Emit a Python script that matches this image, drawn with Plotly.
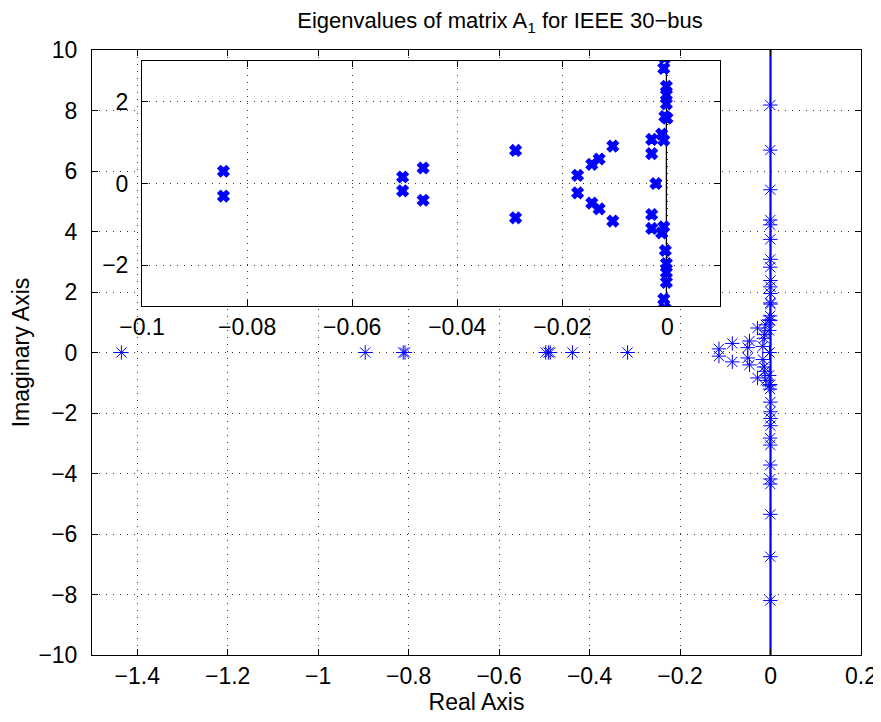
import plotly.graph_objects as go

# ---- data ----
# eigenvalues: real parts and imaginary parts
eig_real = [
    -1.435, -0.896, -0.812, -0.808, -0.497, -0.491, -0.487, -0.438, -0.316, -0.0022,
    -0.114, -0.114,
    -0.0845, -0.0845,
    -0.0504, -0.0504,
    -0.0465, -0.0465,
    -0.0289, -0.0289,
    -0.0171, -0.0171,
    -0.0144, -0.0144,
    -0.0130, -0.0130,
    -0.0104, -0.0104,
    -0.0030, -0.0030,
    -0.0030, -0.0030,
    -0.0011, -0.0011,
    -0.0007, -0.0007,
    -0.0005, -0.0004,
    -0.0001,
    -0.0002, -0.0002,
    -0.0002, -0.0002,
    -0.0002, -0.0002,
    -0.0007, -0.0007,
    -0.0005, -0.0005,
    -0.0005, -0.0005,
    -0.0005, -0.0005,
    -0.0005, -0.0005,
    -0.0005, -0.0005,
    -0.0005, -0.0005,
    -0.0005, -0.0005,
]
eig_imag = [
    0, 0, 0, 0, 0, 0, 0, 0, 0, 0,
    0.12, -0.12,
    0.30, -0.31,
    0.16, -0.18,
    0.38, -0.41,
    0.81, -0.84,
    0.20, -0.23,
    0.47, -0.48,
    0.60, -0.62,
    0.915, -0.92,
    0.73, -0.76,
    1.08, -1.10,
    1.21, -1.21,
    1.06, -1.06,
    1.64, -1.64,
    1.60,
    1.95, -1.96,
    2.17, -2.18,
    2.38, -2.42,
    2.82, -2.83,
    3.08, -3.06,
    3.74, -3.72,
    4.22, -4.18,
    4.38, -4.35,
    5.38, -5.35,
    6.69, -6.75,
    8.18, -8.20,
]

# imaginary-axis reference lines
main_line_x = [0, 0]
main_line_y = [-10, 10]
inset_line_x = [-0.0002, -0.0002]
inset_line_y = [-3, 3]

# tick values
main_xticks = [-1.4, -1.2, -1, -0.8, -0.6, -0.4, -0.2, 0, 0.2]
main_yticks = [-10, -8, -6, -4, -2, 0, 2, 4, 6, 8, 10]
inset_xticks = [-0.1, -0.08, -0.06, -0.04, -0.02, 0]
inset_yticks = [-2, 0, 2]

FONT = "Liberation Sans, Arial, Helvetica, sans-serif"
BLUE = "#0000ff"
FS = 23
TFS = 22

fig = go.Figure()

# main plot
fig.add_trace(go.Scatter(
    x=main_line_x, y=main_line_y, mode="lines",
    line=dict(color=BLUE, width=2.2), xaxis="x", yaxis="y",
    showlegend=False, hoverinfo="skip"))
fig.add_trace(go.Scatter(
    x=eig_real, y=eig_imag, mode="markers",
    marker=dict(symbol="asterisk-open", size=12, color=BLUE,
                line=dict(color=BLUE, width=1)),
    xaxis="x", yaxis="y", showlegend=False))

# inset
fig.add_trace(go.Scatter(
    x=inset_line_x, y=inset_line_y, mode="lines",
    line=dict(color="black", width=1.3), xaxis="x2", yaxis="y2",
    showlegend=False, hoverinfo="skip"))
fig.add_trace(go.Scatter(
    x=eig_real, y=eig_imag, mode="markers",
    marker=dict(symbol="x", size=10, color=BLUE,
                line=dict(color=BLUE, width=1.3)),
    xaxis="x2", yaxis="y2", showlegend=False))

# page is shown with an 8px body margin, so the figure is shifted by OFF
OFF = 8
PAGE_W, PAGE_H = 881, 722
W, H = PAGE_W - OFF, PAGE_H - OFF
# plot area in page pixels
PX0, PX1, PY0, PY1 = 92, 861, 50, 655
L, R, T, B = PX0 - OFF, PAGE_W - PX1, PY0 - OFF, PAGE_H - PY1
pw, ph = PX1 - PX0, PY1 - PY0

def px_to_dom_x(p):
    return (p - PX0) / pw

def px_to_dom_y(p):
    return (PY1 - p) / ph

grid = dict(showgrid=True, gridcolor="#333333", gridwidth=1, griddash="1px,6px")
axis_common = dict(showline=True, linecolor="black", linewidth=1, mirror="ticks",
                   ticks="inside", ticklen=6, tickcolor="black", tickwidth=1,
                   zeroline=False, automargin=False,
                   tickfont=dict(family=FONT, size=FS, color="black"),
                   **grid)

fig.update_layout(
    width=W, height=H,
    margin=dict(l=L, r=R, t=T, b=B),
    paper_bgcolor="white", plot_bgcolor="white",
    font=dict(family=FONT, size=FS, color="black"),
    title=dict(text="Eigenvalues of matrix A<sub>1</sub> for IEEE 30\u2212bus",
               x=px_to_dom_x(500), xref="paper", xanchor="center",
               y=1 - 4.5 / H, yref="container", yanchor="top",
               font=dict(family=FONT, size=TFS, color="black")),
    xaxis=dict(range=[-1.5, 0.2], tickvals=main_xticks, domain=[0, 1],
               ticklabelstandoff=0,
               title=dict(text="Real Axis", standoff=5,
                          font=dict(family=FONT, size=FS, color="black")),
               **axis_common),
    yaxis=dict(range=[-10, 10], tickvals=main_yticks, domain=[0, 1],
               ticklabelstandoff=9,
               title=dict(text="Imaginary Axis", standoff=12,
                          font=dict(family=FONT, size=FS, color="black")),
               **axis_common),
    xaxis2=dict(range=[-0.1, 0.01], tickvals=inset_xticks, anchor="y2",
                ticklabelstandoff=0,
                domain=[px_to_dom_x(142), px_to_dom_x(720)], **axis_common),
    yaxis2=dict(range=[-3, 3], tickvals=inset_yticks, anchor="x2",
                ticklabelstandoff=8,
                domain=[px_to_dom_y(306), px_to_dom_y(61)], **axis_common),
)

fig.write_html("out.html")
